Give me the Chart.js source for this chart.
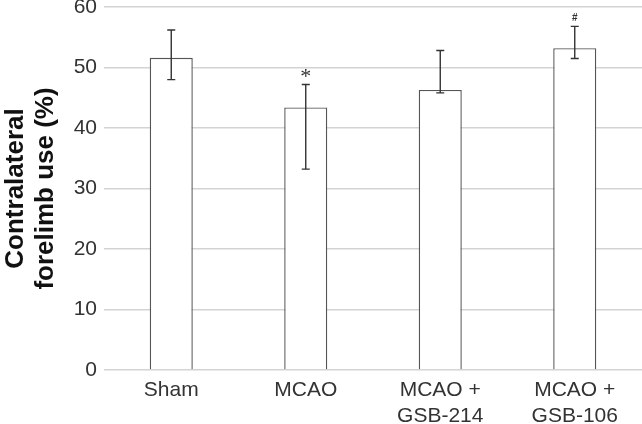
<!DOCTYPE html>
<html>
<head>
<meta charset="utf-8">
<script src="https://cdn.jsdelivr.net/npm/chart.js@4"></script>
<style>
  html, body { margin: 0; padding: 0; background: #fff; }
  #wrap { width: 642px; height: 424px; position: relative; }
</style>
</head>
<body>
<div id="wrap"><canvas id="c"></canvas></div>
<script>
const categories = ['Sham', 'MCAO', ['MCAO +', 'GSB-214'], ['MCAO +', 'GSB-106']];
const means = [51.6, 43.4, 46.3, 53.2];
const errUpper = [56.2, 47.2, 52.8, 56.8];
const errLower = [48.0, 33.2, 45.8, 51.5];
const marks = ['', '*', '', '#'];
const yTicks = [0, 10, 20, 30, 40, 50, 60];

const errorBarPlugin = {
  id: 'errorBars',
  afterDatasetsDraw(chart) {
    const ctx = chart.ctx;
    const meta = chart.getDatasetMeta(0);
    const y = chart.scales.y;
    ctx.save();
    ctx.strokeStyle = '#333';
    ctx.lineWidth = 1.4;
    meta.data.forEach((bar, i) => {
      const x = bar.x;
      const yHi = y.getPixelForValue(errUpper[i]);
      const yLo = y.getPixelForValue(errLower[i]);
      ctx.beginPath();
      ctx.moveTo(x, yHi); ctx.lineTo(x, yLo);
      ctx.moveTo(x - 4, yHi); ctx.lineTo(x + 4, yHi);
      ctx.moveTo(x - 4, yLo); ctx.lineTo(x + 4, yLo);
      ctx.stroke();
      if (marks[i]) {
        ctx.fillStyle = '#333';
        ctx.textAlign = 'center';
        if (marks[i] === '*') {
          ctx.font = '22px "Liberation Serif"';
          ctx.textBaseline = 'alphabetic';
          ctx.fillText(marks[i], x, yHi - 1.5);
        } else {
          ctx.font = 'bold 10px "Liberation Sans"';
          ctx.textBaseline = 'middle';
          ctx.fillText(marks[i], x, yHi - 8);
        }
      }
    });
    ctx.restore();
  }
};

new Chart(document.getElementById('c'), {
  type: 'bar',
  data: {
    labels: categories,
    datasets: [{
      data: means,
      backgroundColor: '#ffffff',
      borderColor: '#555555',
      borderWidth: 1.4,
      borderSkipped: 'bottom',
      categoryPercentage: 1.0,
      barPercentage: 0.32
    }]
  },
  options: {
    responsive: true,
    maintainAspectRatio: false,
    animation: false,
    layout: { padding: { top: 7, right: 0, bottom: 0, left: 0 } },
    plugins: { legend: { display: false }, tooltip: { enabled: false } },
    scales: {
      x: {
        grid: { display: false, drawTicks: false },
        border: { display: false },
        ticks: {
          color: '#333',
          font: { family: '"Liberation Sans", Arial, sans-serif', size: 21, lineHeight: 1.25 },
          padding: 7,
          maxRotation: 0,
          autoSkip: false
        },
        afterFit(scale) { scale.height = 54; scale.paddingLeft = 0; scale.paddingRight = 0; }
      },
      y: {
        min: 0, max: 60,
        afterBuildTicks(scale) { scale.ticks = yTicks.map(v => ({ value: v })); },
        grid: { color: '#d3d3d3', lineWidth: 1.5, drawTicks: false },
        border: { display: false },
        ticks: {
          color: '#333',
          font: { family: '"Liberation Sans", Arial, sans-serif', size: 21 },
          padding: 7
        },
        title: {
          display: true,
          text: ['Contralateral', 'forelimb use (%)'],
          color: '#111',
          font: { family: '"Liberation Sans", Arial, sans-serif', size: 26, weight: 'bold', lineHeight: 1.18 },
          padding: { top: 0, bottom: 0 }
        },
        afterFit(scale) { scale.width = 104; scale.paddingTop = 0; scale.paddingBottom = 0; }
      }
    }
  },
  plugins: [errorBarPlugin]
});
</script>
</body>
</html>
